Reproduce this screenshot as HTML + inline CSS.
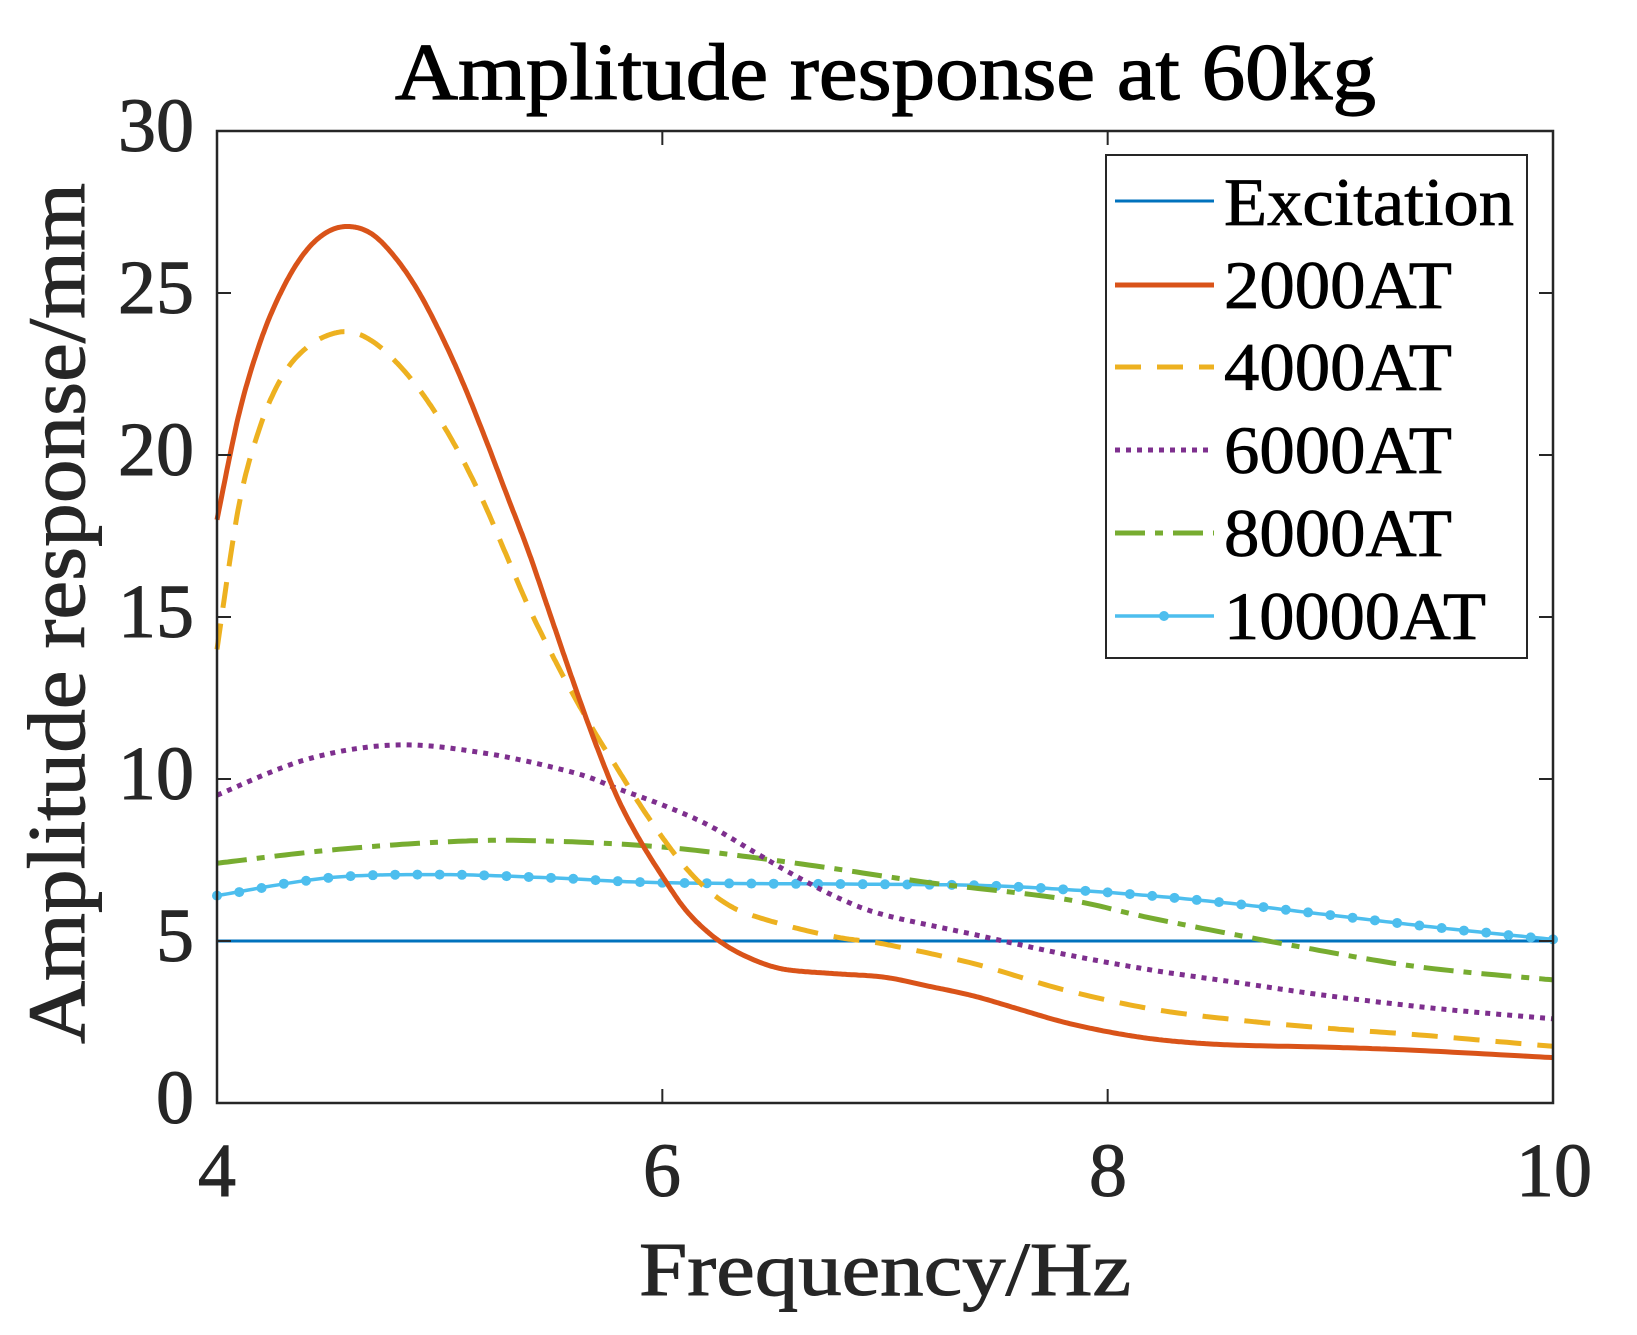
<!DOCTYPE html>
<html><head><meta charset="utf-8"><style>html,body{margin:0;padding:0;background:#fff}svg{display:block}</style></head>
<body>
<svg id="s" width="1637" height="1335" xmlns="http://www.w3.org/2000/svg" font-family="Liberation Serif, serif">
<rect width="1637" height="1335" fill="#fff"/>
<text x="395" y="99" font-size="80" textLength="981" lengthAdjust="spacingAndGlyphs" fill="#000" stroke="#000" stroke-width="1.2">Amplitude response at 60kg</text>
<g id="curves"></g>
<rect x="217" y="131" width="1336" height="972" fill="none" stroke="#262626" stroke-width="2.5"/>
<g id="ticks" stroke="#262626" stroke-width="2"></g>
<g font-size="76" fill="#262626" stroke="#262626" stroke-width="1">
<text x="217" y="1196" text-anchor="middle">4</text>
<text x="662" y="1196" text-anchor="middle">6</text>
<text x="1108" y="1196" text-anchor="middle">8</text>
<text x="1554" y="1196" text-anchor="middle">10</text>
<g text-anchor="end">
<text x="194" y="1123">0</text>
<text x="194" y="961">5</text>
<text x="194" y="799">10</text>
<text x="194" y="637">15</text>
<text x="194" y="475">20</text>
<text x="194" y="313">25</text>
<text x="194" y="151">30</text>
</g>
<text x="639" y="1295" font-size="76" textLength="492" lengthAdjust="spacingAndGlyphs">Frequency/Hz</text>
<text transform="translate(84,1044) rotate(-90)" font-size="82" textLength="861" lengthAdjust="spacingAndGlyphs">Amplitude response/mm</text>
</g>
<rect x="1106" y="155" width="421" height="503" fill="#fff" stroke="#262626" stroke-width="2"/>
<g font-size="68" fill="#000" stroke="#000" stroke-width="0.8">
<text x="1224" y="225" textLength="290" lengthAdjust="spacingAndGlyphs">Excitation</text>
<text x="1224" y="308" textLength="228" lengthAdjust="spacingAndGlyphs">2000AT</text>
<text x="1224" y="390" textLength="228" lengthAdjust="spacingAndGlyphs">4000AT</text>
<text x="1224" y="473" textLength="228" lengthAdjust="spacingAndGlyphs">6000AT</text>
<text x="1224" y="556" textLength="228" lengthAdjust="spacingAndGlyphs">8000AT</text>
<text x="1224" y="639" textLength="262" lengthAdjust="spacingAndGlyphs">10000AT</text>
</g>
<g id="leg"></g>
</svg>
<script>
var NS="http://www.w3.org/2000/svg";
function X(x){return 217+(x-4)*1336/6}
function Y(y){return 1103-y*32.4}
function interp(pts){var out=[];for(var i=0;i<pts.length-1;i++){var p0=pts[Math.max(0,i-1)],p1=pts[i],p2=pts[i+1],p3=pts[Math.min(pts.length-1,i+2)];
for(var t=0;t<1;t+=0.05){var t2=t*t,t3=t2*t;
var f=function(a,b,c,d){return 0.5*((2*b)+(-a+c)*t+(2*a-5*b+4*c-d)*t2+(-a+3*b-3*c+d)*t3)};
out.push([f(p0[0],p1[0],p2[0],p3[0]),f(p0[1],p1[1],p2[1],p3[1])]);}}
out.push(pts[pts.length-1]);return out;}
function path(data,attrs,par){var pts=data.map(function(d){return[X(d[0]),Y(d[1])]});var s=interp(pts);
var p=document.createElementNS(NS,"path");p.setAttribute("d","M"+s.map(function(q){return q[0].toFixed(1)+","+q[1].toFixed(1)}).join("L"));
p.setAttribute("fill","none");for(var k in attrs)p.setAttribute(k,attrs[k]);(par||document.getElementById("curves")).appendChild(p);return s;}
var d2000=[[4,18],[4.1,21.3],[4.2,23.6],[4.3,25.2],[4.4,26.3],[4.5,26.9],[4.6,27.05],[4.7,26.8],[4.8,26.1],[4.9,25.1],[5,23.8],[5.1,22.3],[5.2,20.6],[5.3,18.8],[5.4,17],[5.5,15],[5.6,13],[5.7,11.1],[5.8,9.4],[5.9,8.1],[6,7.0],[6.1,6.0],[6.2,5.3],[6.3,4.8],[6.4,4.45],[6.5,4.2],[6.6,4.08],[6.8,3.98],[7,3.88],[7.2,3.6],[7.4,3.3],[7.6,2.9],[7.8,2.5],[8,2.2],[8.2,1.98],[8.4,1.85],[8.6,1.78],[9,1.72],[9.4,1.62],[10,1.4]];
var d4000=[[4,14],[4.1,18.5],[4.2,21],[4.3,22.5],[4.4,23.3],[4.5,23.7],[4.6,23.8],[4.7,23.5],[4.8,22.9],[4.9,22.1],[5,21.1],[5.1,19.9],[5.2,18.5],[5.3,16.9],[5.4,15.3],[5.5,13.9],[5.6,12.6],[5.7,11.4],[5.8,10.3],[5.9,9.2],[6,8.2],[6.1,7.3],[6.2,6.6],[6.3,6.1],[6.4,5.8],[6.6,5.4],[6.8,5.1],[7,4.9],[7.4,4.3],[7.8,3.5],[8.2,2.9],[8.6,2.55],[9,2.3],[9.4,2.1],[10,1.75]];
var d6000=[[4,9.5],[4.4,10.6],[4.8,11.05],[5.2,10.8],[5.6,10.2],[5.8,9.7],[6,9.2],[6.2,8.6],[6.4,7.8],[6.6,7],[6.8,6.3],[7,5.8],[7.4,5.2],[7.8,4.6],[8.2,4.1],[8.6,3.7],[9,3.3],[9.5,2.9],[10,2.6]];
var d8000=[[4,7.4],[4.5,7.8],[5,8.05],[5.4,8.1],[6,7.9],[6.6,7.4],[7.2,6.8],[7.8,6.3],[8.2,5.7],[8.8,4.9],[9.4,4.2],[10,3.8]];
var d10000=[[4,6.4],[4.5,6.95],[5,7.05],[5.5,6.95],[6,6.8],[7,6.75],[7.5,6.7],[8,6.5],[8.5,6.2],[9,5.8],[9.5,5.4],[10,5.05]];
path([[4,5],[10,5]],{stroke:"#0072BD","stroke-width":3});
path(d10000,{stroke:"#4DBEEE","stroke-width":3.5});
var g=document.getElementById("curves");
var pts=d10000.map(function(d){return[X(d[0]),Y(d[1])]});var s=interp(pts);
for(var xv=4;xv<=10.001;xv+=0.1){var px=X(xv);var best=s[0];for(var i=0;i<s.length;i++){if(Math.abs(s[i][0]-px)<Math.abs(best[0]-px))best=s[i];}
var c=document.createElementNS(NS,"circle");c.setAttribute("cx",px);c.setAttribute("cy",best[1]);c.setAttribute("r",5);c.setAttribute("fill","#4DBEEE");g.appendChild(c);}
path(d8000,{stroke:"#77AC30","stroke-width":5,"stroke-dasharray":"30 10 8 10"});
path(d6000,{stroke:"#7E2F8E","stroke-width":5,"stroke-dasharray":"5 6"});
path(d4000,{stroke:"#EDB120","stroke-width":5,"stroke-dasharray":"26 16"});
path(d2000,{stroke:"#D95319","stroke-width":5});
var tg=document.getElementById("ticks");
function ln(a,b,c,d){var l=document.createElementNS(NS,"line");l.setAttribute("x1",a);l.setAttribute("y1",b);l.setAttribute("x2",c);l.setAttribute("y2",d);tg.appendChild(l);}
[4,6,8,10].forEach(function(x){ln(X(x),1103,X(x),1089);ln(X(x),131,X(x),145);});
[0,5,10,15,20,25,30].forEach(function(y){ln(217,Y(y),231,Y(y));ln(1553,Y(y),1539,Y(y));});
var lg=document.getElementById("leg");
function ll(y,st){var l=document.createElementNS(NS,"line");l.setAttribute("x1",1115);l.setAttribute("x2",1214);l.setAttribute("y1",y);l.setAttribute("y2",y);for(var k in st)l.setAttribute(k,st[k]);lg.appendChild(l);}
ll(201,{stroke:"#0072BD","stroke-width":3});
ll(285,{stroke:"#D95319","stroke-width":5});
ll(367,{stroke:"#EDB120","stroke-width":5,"stroke-dasharray":"26 16"});
ll(450,{stroke:"#7E2F8E","stroke-width":5,"stroke-dasharray":"5 6"});
ll(533,{stroke:"#77AC30","stroke-width":5,"stroke-dasharray":"30 10 8 10"});
ll(616,{stroke:"#4DBEEE","stroke-width":3.5});
var c=document.createElementNS(NS,"circle");c.setAttribute("cx",1164);c.setAttribute("cy",616);c.setAttribute("r",5);c.setAttribute("fill","#4DBEEE");lg.appendChild(c);
</script>
</body></html>
